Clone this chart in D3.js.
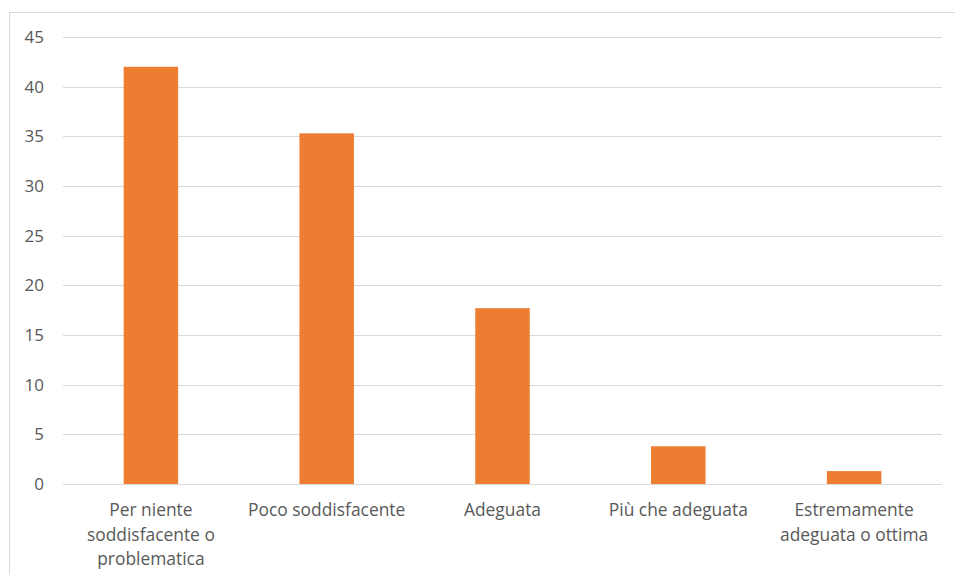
<!DOCTYPE html>
<html>
<head>
<meta charset="utf-8">
<title>Valutazione</title>
<script src="https://cdnjs.cloudflare.com/ajax/libs/d3/7.8.5/d3.min.js"></script>
<style>
  html, body { margin: 0; background: #fff; }
  svg text { font-family: "Open Sans", "Noto Sans", sans-serif; fill: #595959; }
</style>
</head>
<body>
<svg id="chart" width="955" height="575"></svg>
<script>
// categories (line breaks as in the original labels)
var categories = [
  "Per niente\nsoddisfacente o\nproblematica",
  "Poco soddisfacente",
  "Adeguata",
  "Più che adeguata",
  "Estremamente\nadeguata o ottima"
];
var values = [42, 35.3, 17.7, 3.8, 1.3];
var yTicks = [0, 5, 10, 15, 20, 25, 30, 35, 40, 45];

var svg = d3.select("#chart");

// chart frame
svg.append("rect")
  .attr("x", 9.5).attr("y", 12.5)
  .attr("width", 960).attr("height", 600)
  .attr("fill", "none").attr("stroke", "#d9d9d9");

var plotL = 63, plotR = 942, plotT = 37, plotB = 484;

var x = d3.scaleBand().domain(categories).range([plotL, plotR]).paddingInner(0.69).paddingOuter(0.345);
var y = d3.scaleLinear().domain([0, 45]).range([plotB, plotT]);

// gridlines
svg.append("g").selectAll("line").data(yTicks).join("line")
  .attr("x1", plotL).attr("x2", plotR)
  .attr("y1", function(d) { return Math.round(y(d)) + 0.5; })
  .attr("y2", function(d) { return Math.round(y(d)) + 0.5; })
  .attr("stroke", "#d9d9d9").attr("stroke-width", 1);

// y labels
svg.append("g").selectAll("text").data(yTicks).join("text")
  .attr("x", 44).attr("y", function(d) { return y(d); })
  .attr("dy", "0.35em").attr("text-anchor", "end")
  .attr("font-size", 17)
  .text(function(d) { return d; });

// bars
svg.append("g").selectAll("rect").data(values).join("rect")
  .attr("x", function(d, i) { return x(categories[i]); })
  .attr("width", x.bandwidth())
  .attr("y", function(d) { return y(d); })
  .attr("height", function(d) { return y(0) - y(d); })
  .attr("fill", "#ed7d31");

// category labels
var lab = svg.append("g").selectAll("text").data(categories).join("text")
  .attr("text-anchor", "middle")
  .attr("font-size", 17.4)
  .attr("x", function(d) { return x(d) + x.bandwidth() / 2; })
  .attr("y", 516);
lab.each(function(d) {
  var t = d3.select(this);
  d.split("\n").forEach(function(line, k) {
    t.append("tspan")
      .attr("x", x(d) + x.bandwidth() / 2)
      .attr("dy", k === 0 ? 0 : 24.5)
      .text(line);
  });
});
</script>
</body>
</html>
